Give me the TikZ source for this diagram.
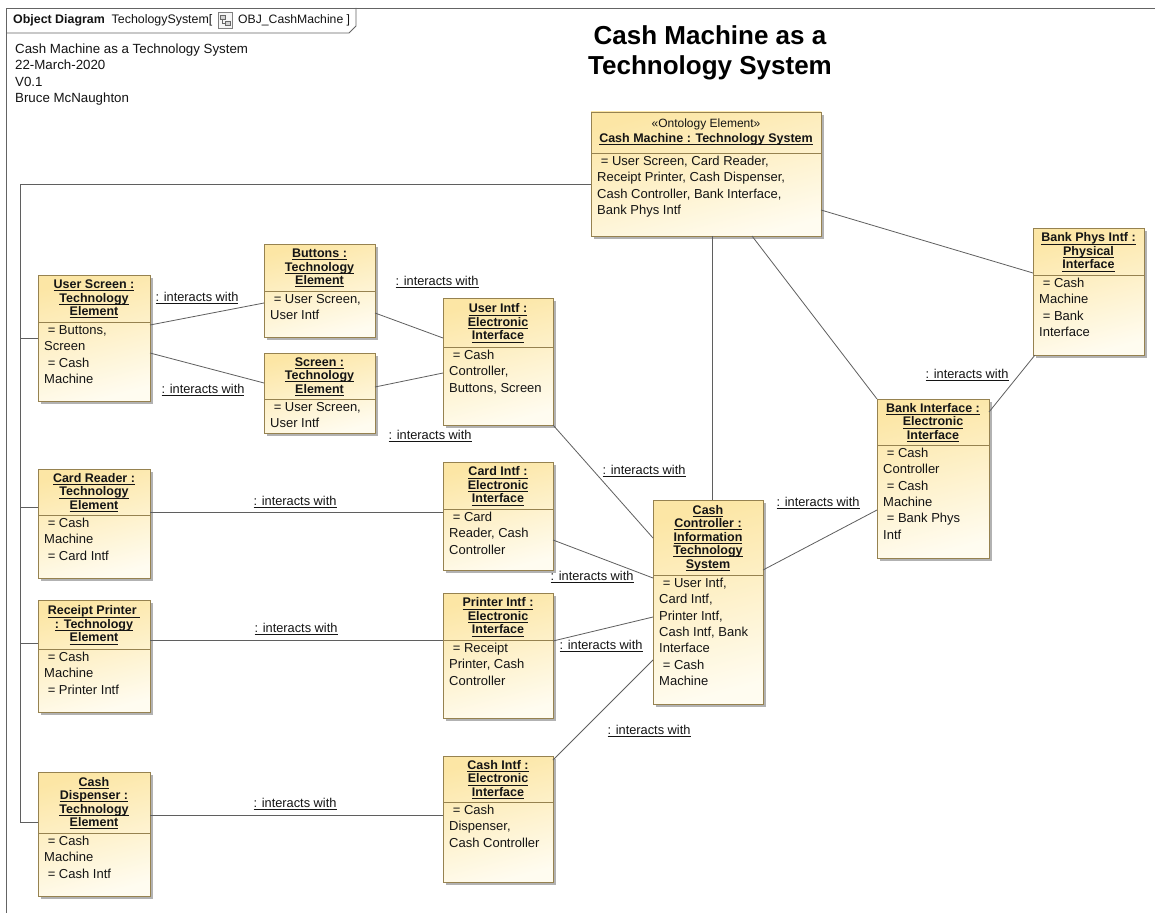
\documentclass[tikz,border=0pt]{standalone}
\usepackage{fontspec}
\setmainfont{Liberation Sans}
\usetikzlibrary{calc,shadows}
\definecolor{objborder}{RGB}{150,130,80}
\definecolor{objtop}{RGB}{252,230,165}
\definecolor{objbot}{RGB}{255,252,240}
\definecolor{connc}{RGB}{95,95,95}
\definecolor{framec}{RGB}{100,100,100}
\definecolor{txtc}{RGB}{20,20,20}
\newcommand\ulx[1]{\setbox0=\hbox{#1}\rlap{\rule[-2.2pt]{\wd0}{0.6pt}}\box0}
\newcommand\ind{\hspace*{3.6pt}}
\tikzset{
  objbox/.style={draw=objborder, line width=0.8pt, top color=objtop, bottom color=objbot,
    shading angle=15, inner sep=0pt, outer sep=0pt,
    drop shadow={shadow xshift=3pt, shadow yshift=-3pt, fill=black, opacity=0.3}},
  sepline/.style={draw=objborder, line width=0.8pt},
  objtitle/.style={align=center, inner sep=0pt, text=txtc,
    font=\bfseries\fontsize{12.5}{13.5}\selectfont},
  objbody/.style={anchor=north west, align=left, inner sep=0pt, text=txtc,
    font=\fontsize{13}{16.3}\selectfont},
  conn/.style={draw=connc, line width=0.8pt},
  lbl/.style={inner sep=0pt, text=txtc, font=\fontsize{12.8}{14}\selectfont},
  framel/.style={draw=framec, line width=0.8pt},
}
% name, x, y, w, h, separator offset, title, body
\newcommand\mkobj[8]{%
  \node[objbox, minimum width=#4pt, minimum height=#5pt, anchor=north west] (#1) at (#2,#3) {};
  \draw[sepline] ($(#1.north west)+(0,#6)$) -- ($(#1.north east)+(0,#6)$);
  \node[objtitle] (#1-t) at ($(#1.north)+(0,#6/2+0.5)$) {#7};
  \node[objbody] (#1-b) at ($(#1.north west)+(6,#6+1)$) {\strut #8};
}
\begin{document}
\begin{tikzpicture}[x=1pt,y=-1pt]
\useasboundingbox (0,0) rectangle (1155,912);
\fill[white] (0,0) rectangle (1155,912);
% frame
\begin{scope}
\clip (0,0) rectangle (1155,912);
\draw[framel] (6,930) -- (6,8) -- (1170,8);
\draw[framel] (6,33) -- (349,33) -- (356,26) -- (356,8);
\end{scope}
\node[anchor=west, inner sep=0pt, font=\fontsize{12.4}{14}\selectfont, text=txtc] (tabA) at (13,20)
  {\textbf{Object Diagram}\ \ TechologySystem[};
\draw[draw=gray, fill=gray!8, line width=0.5pt] (218,12) rectangle (232,28);
\draw[draw=gray!80!black, fill=gray!35, line width=0.4pt] (220,15) rectangle (225,19);
\draw[draw=gray!80!black, fill=gray!35, line width=0.4pt] (225,21) rectangle (230,25);
\draw[gray!80!black, line width=0.4pt] (222.5,19) |- (225,23);
\node[anchor=west, inner sep=0pt, font=\fontsize{12.2}{14}\selectfont, text=txtc] (tabB) at (238,20)
  {OBJ\_CashMachine ]};
% header notes
\node[anchor=north west, align=left, inner sep=0pt, text=txtc, font=\fontsize{13.3}{16.3}\selectfont] (notes) at (15,42)
  {\strut Cash Machine as a Technology System\\22-March-2020\\V0.1\\Bruce McNaughton};
% title
\node[align=center, inner sep=0pt, font=\bfseries\fontsize{26}{30}\selectfont, text=black] (title) at (710,53)
  {Cash Machine as a\\Technology System};

% objects
\node[objbox, minimum width=230pt, minimum height=124pt, anchor=north west] (cm) at (591,112) {};
\draw[sepline] ($(cm.north west)+(0,41)$) -- ($(cm.north east)+(0,41)$);
\node[align=center, inner sep=0pt, text=txtc, font=\fontsize{12}{15}\selectfont] (cm-s) at ($(cm.north)+(0,12)$) {«Ontology Element»};
\node[objtitle] (cm-t) at ($(cm.north)+(0,27)$) {\ulx{Cash Machine : Technology System}};
\node[objbody] (cm-b) at ($(cm.north west)+(6,42)$)
  {\strut\ind= User Screen, Card Reader,\\Receipt Printer, Cash Dispenser,\\Cash Controller, Bank Interface,\\Bank Phys Intf};

\mkobj{us}{38}{275}{112}{126}{47}{\ulx{User Screen :}\\\ulx{Technology}\\\ulx{Element}}{\ind= Buttons,\\Screen\\\ind= Cash\\Machine}
\mkobj{bt}{264}{244}{111}{93}{47}{\ulx{Buttons :}\\\ulx{Technology}\\\ulx{Element}}{\ind= User Screen,\\User Intf}
\mkobj{sc}{264}{353}{111}{80}{46}{\ulx{Screen :}\\\ulx{Technology}\\\ulx{Element}}{\ind= User Screen,\\User Intf}
\mkobj{ui}{443}{298}{110}{127}{49}{\ulx{User Intf :}\\\ulx{Electronic}\\\ulx{Interface}}{\ind= Cash\\Controller,\\Buttons, Screen}
\mkobj{cr}{38}{469}{112}{109}{46}{\ulx{Card Reader :}\\\ulx{Technology}\\\ulx{Element}}{\ind= Cash\\Machine\\\ind= Card Intf}
\mkobj{rp}{38}{600}{112}{112}{49}{\ulx{Receipt Printer }\\\ulx{: Technology}\\\ulx{Element}}{\ind= Cash\\Machine\\\ind= Printer Intf}
\mkobj{cd}{38}{772}{112}{124}{61}{\ulx{Cash}\\\ulx{Dispenser :}\\\ulx{Technology}\\\ulx{Element}}{\ind= Cash\\Machine\\\ind= Cash Intf}
\mkobj{ci}{443}{462}{110}{108}{47}{\ulx{Card Intf :}\\\ulx{Electronic}\\\ulx{Interface}}{\ind= Card\\Reader, Cash\\Controller}
\mkobj{pi}{443}{593}{110}{125}{47}{\ulx{Printer Intf :}\\\ulx{Electronic}\\\ulx{Interface}}{\ind= Receipt\\Printer, Cash\\Controller}
\mkobj{xi}{443}{756}{110}{126}{46}{\ulx{Cash Intf :}\\\ulx{Electronic}\\\ulx{Interface}}{\ind= Cash\\Dispenser,\\Cash Controller}
\mkobj{cc}{653}{500}{110}{204}{75}{\ulx{Cash}\\\ulx{Controller :}\\\ulx{Information}\\\ulx{Technology}\\\ulx{System}}{\ind= User Intf,\\Card Intf,\\Printer Intf,\\Cash Intf, Bank\\Interface\\\ind= Cash\\Machine}
\mkobj{bi}{877}{399}{112}{159}{46}{\ulx{Bank Interface :}\\\ulx{Electronic}\\\ulx{Interface}}{\ind= Cash\\Controller\\\ind= Cash\\Machine\\\ind= Bank Phys\\Intf}
\mkobj{bp}{1033}{228}{111}{127}{47}{\ulx{Bank Phys Intf :}\\\ulx{Physical}\\\ulx{Interface}}{\ind= Cash\\Machine\\\ind= Bank\\Interface}

% ownership bus
\coordinate (bus) at (20,184);
\draw[conn] ($(cm.north west)+(0,72)$) -- (bus) |- ($(cd.north west)+(0,50)$);
\draw[conn] (bus) |- ($(us.north west)+(0,63)$);
\draw[conn] (bus) |- ($(cr.north west)+(0,38)$);
\draw[conn] (bus) |- ($(rp.north west)+(0,43)$);
% composition links
\draw[conn] ($(cm.south west)+(121,0)$) -- ($(cc.north west)+(59,0)$);
\draw[conn] ($(cm.south west)+(161,0)$) -- (bi.north west);
\draw[conn] ($(cm.north east)+(0,98)$) -- ($(bp.north west)+(0,45)$);
% interacts with
\draw[conn] ($(us.north east)+(0,50)$) -- ($(bt.north west)+(0,59)$);
\draw[conn] ($(us.north east)+(0,78)$) -- ($(sc.north west)+(0,30)$);
\draw[conn] ($(bt.north east)+(0,69)$) -- ($(ui.north west)+(0,40)$);
\draw[conn] ($(sc.north east)+(0,34)$) -- ($(ui.north west)+(0,75)$);
\draw[conn] (ui.south east) -- ($(cc.north west)+(0,38)$);
\draw[conn] ($(cc.north east)+(0,70)$) -- ($(bi.north west)+(0,111)$);
\draw[conn] ($(bp.south west)+(2,0)$) -- ($(bi.north east)+(0,13)$);
\draw[conn] ($(cr.north east)+(0,43)$) -- ($(ci.north west)+(0,50)$);
\draw[conn] ($(ci.north east)+(0,78)$) -- ($(cc.north west)+(0,78)$);
\draw[conn] ($(rp.north east)+(0,40)$) -- ($(pi.north west)+(0,47)$);
\draw[conn] ($(pi.north east)+(0,48)$) -- ($(cc.north west)+(0,117)$);
\draw[conn] ($(xi.north east)+(0,4)$) -- ($(cc.north west)+(0,160)$);
\draw[conn] ($(cd.north east)+(0,43)$) -- ($(xi.north west)+(0,59)$);

% labels
\node[lbl] (l1) at (197,298) {\ulx{: interacts with}};
\node[lbl] (l2) at (203,390) {\ulx{: interacts with}};
\node[lbl] (l3) at (437,282) {\ulx{: interacts with}};
\node[lbl] (l4) at (430,436) {\ulx{: interacts with}};
\node[lbl] (l5) at (644,471) {\ulx{: interacts with}};
\node[lbl] (l6) at (818,503) {\ulx{: interacts with}};
\node[lbl] (l7) at (295,502) {\ulx{: interacts with}};
\node[lbl] (l8) at (592,577) {\ulx{: interacts with}};
\node[lbl] (l9) at (296,629) {\ulx{: interacts with}};
\node[lbl] (l10) at (601,646) {\ulx{: interacts with}};
\node[lbl] (l11) at (649,731) {\ulx{: interacts with}};
\node[lbl] (l12) at (295,804) {\ulx{: interacts with}};
\node[lbl] (l13) at (967,375) {\ulx{: interacts with}};
\end{tikzpicture}
\end{document}
